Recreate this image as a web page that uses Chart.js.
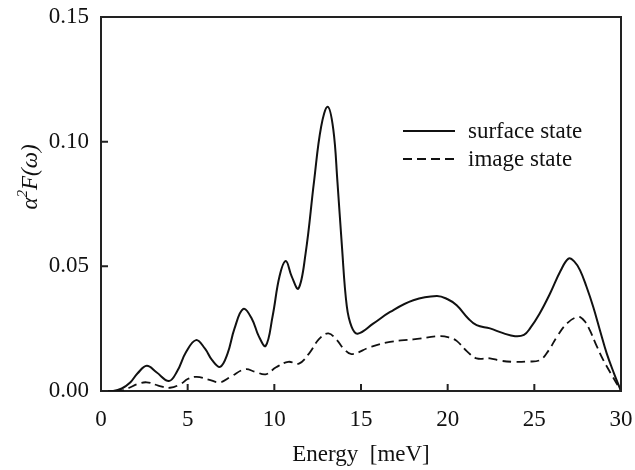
<!DOCTYPE html>
<html>
<head>
<meta charset="utf-8">
<script src="https://cdn.jsdelivr.net/npm/chart.js@4.4.1/dist/chart.umd.min.js"></script>
<style>
  html, body { margin: 0; padding: 0; background: #fff; }
</style>
</head>
<body>
<canvas id="chart" width="635" height="470"></canvas>
<script>
// surface state
const surfaceE = [0, 0.7, 1.2, 1.7, 2.1, 2.64, 3.2, 3.92, 4.4, 4.9, 5.48, 6.0, 6.4, 6.87, 7.3, 7.7, 8.21, 8.7, 9.1, 9.5,
  9.9, 10.3, 10.66, 11.0, 11.39, 11.8, 12.29, 12.7, 13.08, 13.4, 13.64, 13.9, 14.18, 14.46, 14.8, 15.7, 16.68, 18.02,
  19.37, 20.0, 20.52, 21.2, 21.67, 22.44, 23.2, 23.89, 24.4, 24.75, 25.3, 25.9, 26.5, 26.97, 27.3, 27.64, 28.0, 28.4,
  28.8, 29.18, 29.6, 30];
const surfaceV = [0, 0, 0.001, 0.0035, 0.007, 0.0101, 0.0075, 0.004, 0.008, 0.0155, 0.0204, 0.017, 0.0125, 0.0097, 0.015,
  0.025, 0.0329, 0.029, 0.022, 0.0181, 0.03, 0.046, 0.0521, 0.046, 0.0411, 0.055, 0.084, 0.106, 0.114, 0.105, 0.084,
  0.058, 0.034, 0.0257, 0.023, 0.027, 0.0317, 0.0364, 0.0381, 0.0368, 0.0344, 0.029, 0.0264, 0.0251, 0.0232, 0.022,
  0.0225, 0.0251, 0.031, 0.039, 0.048, 0.0531, 0.052, 0.0484, 0.042, 0.0337, 0.024, 0.015, 0.007, 0];

// image state
const imageE = [0, 1.1, 1.6, 2.1, 2.64, 3.3, 3.98, 4.6, 5.0, 5.52, 6.2, 6.87, 7.5, 8.31, 8.9, 9.5, 10.1, 10.8, 11.42,
  12.0, 12.6, 13.12, 13.6, 14.0, 14.46, 15.5, 16.68, 18.02, 19.56, 20.1, 20.52, 21.1, 21.67, 22.44, 23.0, 23.79, 24.6,
  25.33, 25.8, 26.3, 26.9, 27.54, 27.9, 28.2, 28.6, 28.98, 29.5, 30];
const imageV = [0, 0, 0.0012, 0.0028, 0.0035, 0.0022, 0.0013, 0.0028, 0.0048, 0.0057, 0.0046, 0.0035, 0.0058, 0.0087,
  0.0077, 0.0067, 0.0095, 0.0117, 0.011, 0.015, 0.021, 0.0231, 0.0205, 0.017, 0.0148, 0.0175, 0.0197, 0.0207, 0.022,
  0.0214, 0.0201, 0.016, 0.0131, 0.0131, 0.0122, 0.0117, 0.0118, 0.0124, 0.016, 0.0217, 0.0272, 0.0297, 0.028, 0.0244,
  0.018, 0.0124, 0.006, 0];

const seriesNames = ['surface state', 'image state'];
const xTicks = [0, 5, 10, 15, 20, 25, 30];
const yTicks = [0, 0.05, 0.10, 0.15];

const FONT = 'Liberation Serif, Times New Roman, serif';
const INK = '#222';

const toPoints = (xs, ys) => xs.map((x, i) => ({ x: x, y: ys[i] }));

// inward ticks, top/right frame, legend and y title
const decor = {
  id: 'decor',
  afterDraw(chart) {
    const c = chart.ctx;
    const a = chart.chartArea;
    const xs = chart.scales.x, ys = chart.scales.y;
    c.save();
    c.strokeStyle = INK;
    c.lineWidth = 2;
    c.beginPath();
    c.moveTo(a.left, a.top); c.lineTo(a.right, a.top); c.lineTo(a.right, a.bottom);
    xTicks.forEach(v => {
      const px = xs.getPixelForValue(v);
      c.moveTo(px, a.bottom); c.lineTo(px, a.bottom - 7);
    });
    yTicks.forEach(v => {
      const py = ys.getPixelForValue(v);
      c.moveTo(a.left, py); c.lineTo(a.left + 7, py);
    });
    c.stroke();

    // legend
    c.font = '23px ' + FONT;
    c.fillStyle = '#111';
    c.textBaseline = 'middle';
    chart.data.datasets.forEach((ds, i) => {
      const y = 131 + i * 28;
      c.strokeStyle = ds.borderColor;
      c.lineWidth = 2;
      c.setLineDash(ds.borderDash || []);
      c.beginPath(); c.moveTo(403, y); c.lineTo(455, y); c.stroke();
      c.fillText(ds.label, 468, y + 1);
    });
    c.setLineDash([]);

    // y title: alpha^2 F(omega)
    c.translate(29, 177);
    c.rotate(-Math.PI / 2);
    const big = 'italic 23px ' + FONT, small = 'italic 15px ' + FONT;
    c.font = big; const w1 = c.measureText('α').width, w3 = c.measureText('F(ω)').width;
    c.font = small; const w2 = c.measureText('2').width;
    let x = -(w1 + w2 + w3) / 2;
    c.textBaseline = 'alphabetic';
    c.font = big; c.fillText('α', x, 8); x += w1;
    c.font = small; c.fillText('2', x, -2); x += w2;
    c.font = big; c.fillText('F(ω)', x, 8);
    c.restore();
  }
};

const ctx = document.getElementById('chart').getContext('2d');
const chart = new Chart(ctx, {
  type: 'line',
  data: {
    datasets: [
      {
        label: seriesNames[0],
        data: toPoints(surfaceE, surfaceV),
        borderColor: '#111',
        borderWidth: 2,
        tension: 0.4,
        pointRadius: 0
      },
      {
        label: seriesNames[1],
        data: toPoints(imageE, imageV),
        borderColor: '#111',
        borderWidth: 1.8,
        borderDash: [9, 5],
        tension: 0.4,
        pointRadius: 0
      }
    ]
  },
  options: {
    responsive: false,
    animation: false,
    layout: { padding: { left: 0, right: 14, top: 17, bottom: 0 } },
    plugins: { legend: { display: false }, tooltip: { enabled: false } },
    scales: {
      x: {
        type: 'linear', min: 0, max: 30,
        afterBuildTicks: s => { s.ticks = xTicks.map(v => ({ value: v })); },
        afterFit: s => { s.height = 79; s.paddingLeft = 0; s.paddingRight = 0; },
        ticks: { color: '#111', font: { family: FONT, size: 23 }, padding: 15, maxRotation: 0 },
        grid: { display: false, drawTicks: false },
        border: { display: true, color: INK, width: 2 },
        title: {
          display: true, text: 'Energy  [meV]', color: '#111',
          font: { family: FONT, size: 23 }, padding: { top: 0, bottom: 1 }
        }
      },
      y: {
        min: 0, max: 0.15,
        afterBuildTicks: s => { s.ticks = yTicks.map(v => ({ value: v })); },
        afterFit: s => { s.width = 101; s.paddingTop = 0; s.paddingBottom = 0; },
        ticks: { color: '#111', font: { family: FONT, size: 23 }, padding: 12, callback: v => v.toFixed(2) },
        grid: { display: false, drawTicks: false },
        border: { display: true, color: INK, width: 2 }
      }
    }
  },
  plugins: [decor]
});
</script>
</body>
</html>
